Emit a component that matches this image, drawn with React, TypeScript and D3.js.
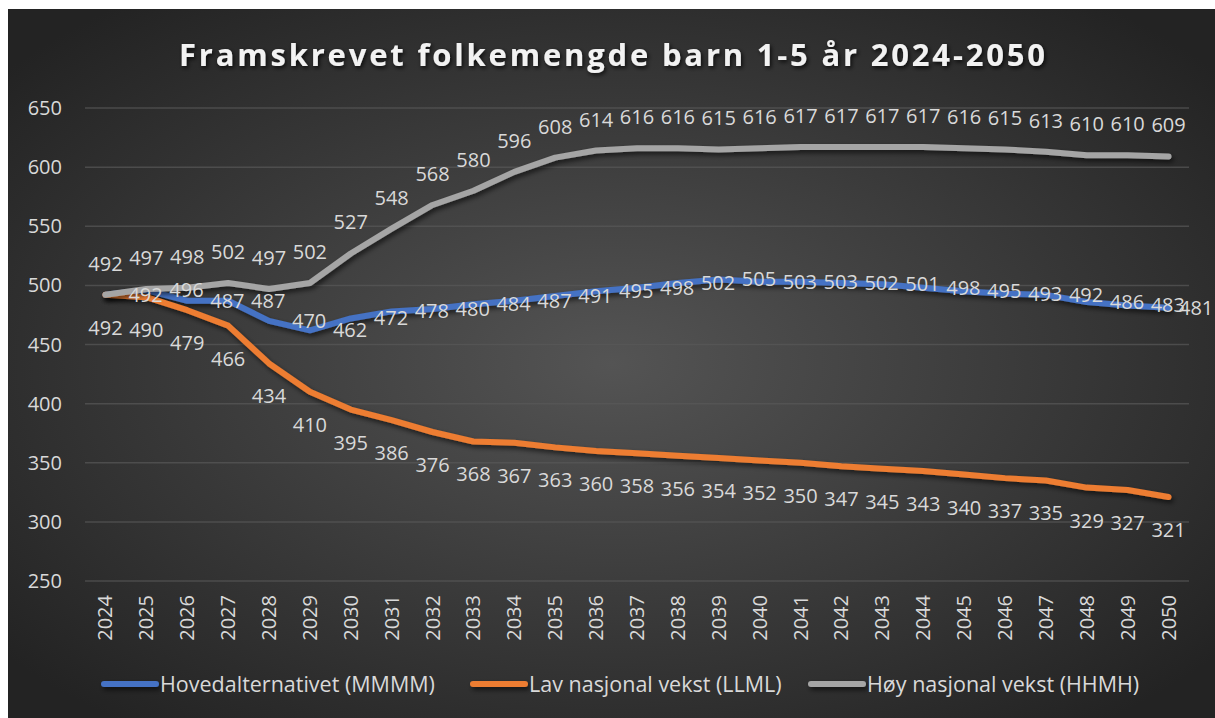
import React, { useEffect, useRef } from 'react';
import * as d3 from 'd3';

const years = d3.range(2024, 2051).map(String);
const hovedalt = [492, 496, 487, 487, 470, 462, 472, 478, 480, 484, 487, 491, 495, 498, 502, 505, 503, 503, 502, 501, 498, 495, 493, 492, 486, 483, 481];
const lavVekst = [492, 490, 479, 466, 434, 410, 395, 386, 376, 368, 367, 363, 360, 358, 356, 354, 352, 350, 347, 345, 343, 340, 337, 335, 329, 327, 321];
const hoyVekst = [492, 497, 498, 502, 497, 502, 527, 548, 568, 580, 596, 608, 614, 616, 616, 615, 616, 617, 617, 617, 617, 616, 615, 613, 610, 610, 609];
const yTicks = [250, 300, 350, 400, 450, 500, 550, 600, 650];
const seriesNames = ['Hovedalternativet (MMMM)', 'Lav nasjonal vekst (LLML)', 'Høy nasjonal vekst (HHMH)'];
const seriesColors = ['#4472C4', '#ED7D31', '#A5A5A5'];
const title = 'Framskrevet folkemengde barn 1-5 år 2024-2050';

const W = 1215, H = 718;
const FONT = "'Open Sans', sans-serif";
const TXT = '#d9d9d9';

const Chart = () => {
  const ref = useRef(null);

  useEffect(() => {
    if (!ref.current) return;
    const svg = d3.select(ref.current);
    svg.selectAll('*').remove();

    const defs = svg.append('defs');
    const grad = defs.append('radialGradient').attr('id', 'bg')
      .attr('cx', '50%').attr('cy', '50%').attr('r', '65%');
    grad.append('stop').attr('offset', '0%').attr('stop-color', '#545454');
    grad.append('stop').attr('offset', '100%').attr('stop-color', '#232323');

    // user space filter so flat lines keep their shadow
    const shadow = defs.append('filter').attr('id', 'shadow')
      .attr('filterUnits', 'userSpaceOnUse')
      .attr('x', 0).attr('y', 0).attr('width', W).attr('height', H);
    shadow.append('feDropShadow').attr('dx', 2).attr('dy', 3).attr('stdDeviation', 2.5)
      .attr('flood-color', '#000').attr('flood-opacity', 0.6);

    const tshadow = defs.append('filter').attr('id', 'tshadow')
      .attr('x', '-5%').attr('y', '-30%').attr('width', '110%').attr('height', '160%');
    tshadow.append('feDropShadow').attr('dx', 1.5).attr('dy', 2).attr('stdDeviation', 2)
      .attr('flood-color', '#000').attr('flood-opacity', 0.8);

    svg.append('rect').attr('x', 8).attr('y', 9).attr('width', W - 8).attr('height', H - 9)
      .attr('fill', 'url(#bg)');

    // title
    svg.append('text')
      .attr('x', 612).attr('y', 66)
      .attr('text-anchor', 'middle')
      .attr('textLength', 866).attr('lengthAdjust', 'spacing')
      .attr('font-family', FONT).attr('font-weight', 700).attr('font-size', 31)
      .attr('fill', '#f2f2f2')
      .attr('filter', 'url(#tshadow)')
      .text(title);

    const x = d3.scaleBand().domain(years).range([85, 1189]).padding(0);
    const y = d3.scaleLinear().domain([250, 650]).range([581, 108]);
    const cx = (yr: string) => (x(yr) as number) + x.bandwidth() / 2;

    // grid
    svg.append('g').selectAll('line').data(yTicks).enter().append('line')
      .attr('x1', 85).attr('x2', 1189)
      .attr('y1', d => y(d)).attr('y2', d => y(d))
      .attr('stroke', '#595959').attr('stroke-width', 1.5).attr('stroke-opacity', 0.7);

    // y axis labels
    svg.append('g').selectAll('text').data(yTicks).enter().append('text')
      .attr('x', 62).attr('y', d => y(d))
      .attr('dy', '0.35em')
      .attr('text-anchor', 'end')
      .attr('font-family', FONT).attr('font-size', 20).attr('fill', TXT)
      .text(d => d);

    // x axis labels
    svg.append('g').selectAll('text').data(years).enter().append('text')
      .attr('transform', d => `translate(${cx(d)},595) rotate(-90)`)
      .attr('dy', '0.35em')
      .attr('text-anchor', 'end')
      .attr('font-family', FONT).attr('font-size', 20).attr('fill', TXT)
      .text(d => d);

    const allSeries = [hovedalt, lavVekst, hoyVekst];
    const line = d3.line<number>().x((_, i) => cx(years[i])).y(d => y(d));

    allSeries.forEach((vals, s) => {
      svg.append('path')
        .datum(vals)
        .attr('d', line)
        .attr('fill', 'none')
        .attr('stroke', seriesColors[s])
        .attr('stroke-width', 6)
        .attr('stroke-linejoin', 'round')
        .attr('stroke-linecap', 'round')
        .attr('filter', 'url(#shadow)');
    });

    // data labels: blue to the right, orange below, grey above
    const lab = svg.append('g')
      .attr('font-family', FONT).attr('font-size', 20).attr('fill', TXT);

    lab.selectAll('.lb').data(hovedalt).enter().append('text')
      .attr('x', (d, i) => Math.min(cx(years[i]) + 23, 1179))
      .attr('y', d => y(d))
      .attr('dy', '0.35em')
      .text(d => d);

    lab.selectAll('.lo').data(lavVekst).enter().append('text')
      .attr('x', (d, i) => cx(years[i]))
      .attr('y', d => y(d) + 33)
      .attr('dy', '0.35em')
      .attr('text-anchor', 'middle')
      .text(d => d);

    lab.selectAll('.lg').data(hoyVekst).enter().append('text')
      .attr('x', (d, i) => cx(years[i]))
      .attr('y', d => y(d) - 31)
      .attr('dy', '0.35em')
      .attr('text-anchor', 'middle')
      .text(d => d);

    // legend
    const legendX = [101, 470, 808];
    const leg = svg.append('g');
    seriesNames.forEach((name, i) => {
      leg.append('rect')
        .attr('x', legendX[i]).attr('y', 681)
        .attr('width', 58).attr('height', 6).attr('rx', 3)
        .attr('fill', seriesColors[i])
        .attr('filter', 'url(#shadow)');
      leg.append('text')
        .attr('x', legendX[i] + 59).attr('y', 684)
        .attr('dy', '0.35em')
        .attr('font-family', FONT).attr('font-size', 21.5).attr('fill', TXT)
        .text(name);
    });
  }, []);

  return (
    <svg ref={ref} width={W} height={H}
      style={{ position: 'absolute', left: 0, top: 0 }} />
  );
};

export default function App() {
  return <Chart />;
}
